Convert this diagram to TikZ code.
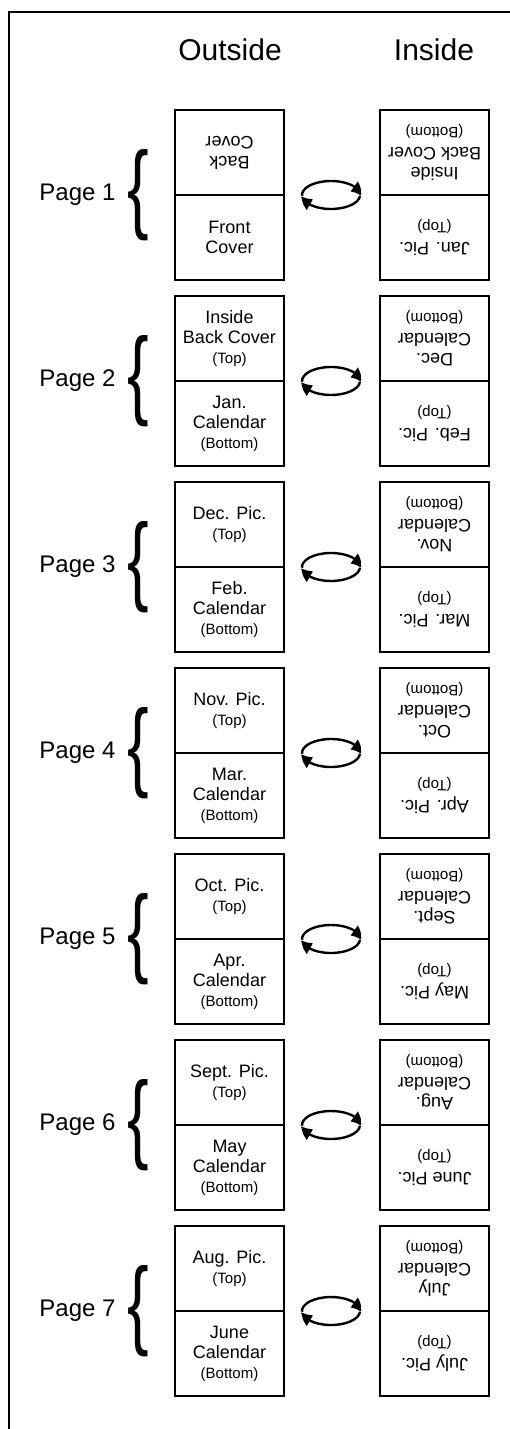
\documentclass[tikz,border=0pt]{standalone}
\usepackage{fontspec}
\setmainfont{Liberation Sans}
\usetikzlibrary{arrows.meta,bending}
\newcommand\smalltxt[1]{{\fontsize{15}{20}\selectfont #1}}
\newcommand\calrow[7]{% #7: style of outside top half
  \node[#7] (o#1t) at (229.5,-#2+42.5) {#3};
  \node[half] (o#1b) at (229.5,-#2-42.5) {#4};
  \node[flip] (i#1t) at (434.5,-#2+42.5) {#5};
  \node[flip] (i#1b) at (434.5,-#2-42.5) {#6};
  \node[pagelbl] (p#1) at (77.5,-#2) {Page #1};
  \node[bracenode] (b#1) at (138,-#2) {\{};
  \coordinate (c#1) at (331,-#2);
  \draw[cyc] ([shift={(183:29pt and 14pt)}]c#1) arc[start angle=183,end angle=-4,x radius=29pt,y radius=14pt];
  \draw[cyc] ([shift={(-3:29pt and 14pt)}]c#1) arc[start angle=-3,end angle=-176,x radius=29pt,y radius=14pt];
}
\begin{document}
\begin{tikzpicture}[x=1pt,y=1pt,
  half/.style={draw, line width=2pt, minimum width=109pt, minimum height=85pt,
    inner sep=0pt, outer sep=0pt, align=center, font=\fontsize{18}{20}\selectfont},
  flip/.style={half, rotate=180},
  pagelbl/.style={font=\fontsize{24}{28}\selectfont},
  hdr/.style={font=\fontsize{30}{34}\selectfont},
  bracenode/.style={font=\fontsize{98}{98}\selectfont, inner sep=0pt, xscale=0.66},
  cyc/.style={line width=2.4pt, -{Triangle[length=11pt,width=12pt,bend]}}]
\useasboundingbox (0,0) rectangle (510,-1429);
\clip (0,0) rectangle (510,-1429);
\draw[line width=2pt] (9,-1440) -- (9,-12) -- (520,-12);
\node[hdr] (hout) at (230,-50) {Outside};
\node[hdr] (hin) at (434,-50) {Inside};
\calrow{1}{195}{Back\\Cover}{Front\\Cover}{Inside\\Back Cover\\\smalltxt{(Bottom)}}{Jan. Pic.\\\smalltxt{(Top)}}{flip}
\calrow{2}{381}{Inside\\Back Cover\\\smalltxt{(Top)}}{Jan.\\Calendar\\\smalltxt{(Bottom)}}{Dec.\\Calendar\\\smalltxt{(Bottom)}}{Feb. Pic.\\\smalltxt{(Top)}}{half}
\calrow{3}{567}{Dec. Pic.\\\smalltxt{(Top)}}{Feb.\\Calendar\\\smalltxt{(Bottom)}}{Nov.\\Calendar\\\smalltxt{(Bottom)}}{Mar. Pic.\\\smalltxt{(Top)}}{half}
\calrow{4}{753}{Nov. Pic.\\\smalltxt{(Top)}}{Mar.\\Calendar\\\smalltxt{(Bottom)}}{Oct.\\Calendar\\\smalltxt{(Bottom)}}{Apr. Pic.\\\smalltxt{(Top)}}{half}
\calrow{5}{939}{Oct. Pic.\\\smalltxt{(Top)}}{Apr.\\Calendar\\\smalltxt{(Bottom)}}{Sept.\\Calendar\\\smalltxt{(Bottom)}}{May Pic.\\\smalltxt{(Top)}}{half}
\calrow{6}{1125}{Sept. Pic.\\\smalltxt{(Top)}}{May\\Calendar\\\smalltxt{(Bottom)}}{Aug.\\Calendar\\\smalltxt{(Bottom)}}{June Pic.\\\smalltxt{(Top)}}{half}
\calrow{7}{1311}{Aug. Pic.\\\smalltxt{(Top)}}{June\\Calendar\\\smalltxt{(Bottom)}}{July\\Calendar\\\smalltxt{(Bottom)}}{July Pic.\\\smalltxt{(Top)}}{half}
\end{tikzpicture}
\end{document}
